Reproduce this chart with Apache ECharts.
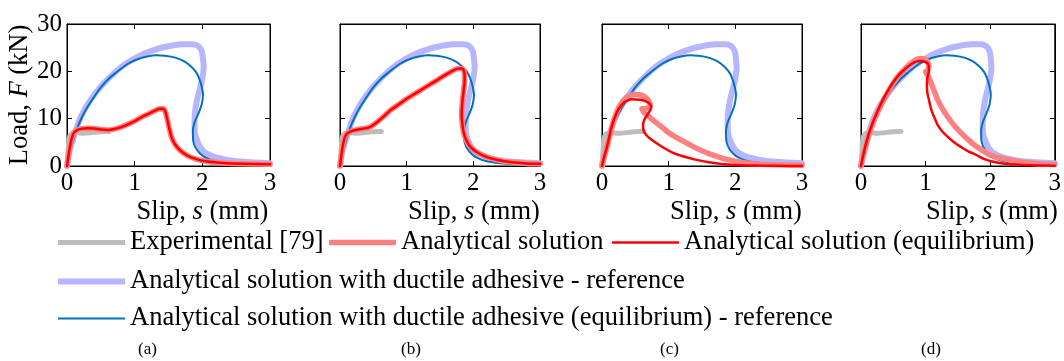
<!DOCTYPE html>
<html>
<head>
<meta charset="utf-8">
<script src="https://cdn.jsdelivr.net/npm/echarts@6/dist/echarts.min.js"></script>
<style>
  html, body { margin: 0; padding: 0; background: #ffffff; }
  #chart { width: 1064px; height: 361px; }
</style>
</head>
<body>
<div id="chart"></div>
<script>
// Load–slip curves, slip s in mm, load F in kN, as [s, F] pairs.

const panelLabels = ['(a)', '(b)', '(c)', '(d)'];
const slipTicks = [0, 1, 2, 3];
const loadTicks = [0, 10, 20, 30];

const seriesNames = [
  'Analytical solution with ductile adhesive - reference',
  'Analytical solution with ductile adhesive (equilibrium) - reference',
  'Experimental [79]',
  'Analytical solution',
  'Analytical solution (equilibrium)'
];

// Test data, identical in every panel
const experimental = [
  [0.01, 0.8], [0.015, 3.0], [0.025, 5.0], [0.04, 6.3], [0.08, 6.9], [0.15, 7.0],
  [0.25, 6.9], [0.35, 7.0], [0.45, 7.2], [0.55, 7.3], [0.62, 7.3]
];

// Ductile adhesive reference curves, identical in every panel
const ductileRef = [
  [0, 0], [0.04, 3.4], [0.09, 5.6], [0.19, 9.9], [0.3, 12.9], [0.4, 15.0], [0.52, 17.1],
  [0.65, 19.0], [0.8, 20.9], [0.95, 22.3], [1.12, 23.6], [1.3, 24.6], [1.5, 25.3],
  [1.7, 25.7], [1.85, 25.7], [1.94, 25.3], [1.99, 24.3], [2.01, 22.5], [2.02, 20.9],
  [2.0, 18.5], [1.97, 16.7], [1.92, 13.9], [1.89, 11.1], [1.885, 9.0], [1.89, 7.0],
  [1.94, 4.8], [2.0, 3.4], [2.07, 2.6], [2.2, 1.8], [2.37, 1.3], [2.6, 0.9], [3.0, 0.6]
];
const ductileEqRef = [
  [0, 0], [0.06, 3.7], [0.14, 7.6], [0.22, 10.3], [0.3, 12.4], [0.4, 14.6], [0.5, 16.6],
  [0.62, 18.5], [0.75, 20.0], [0.9, 21.6], [1.05, 22.6], [1.2, 23.2], [1.32, 23.4],
  [1.45, 23.3], [1.6, 22.9], [1.72, 22.2], [1.82, 21.2], [1.9, 20.0], [1.95, 18.6],
  [1.99, 16.8], [2.01, 15.1], [1.99, 13.0], [1.94, 11.0], [1.89, 9.4], [1.86, 7.4],
  [1.865, 5.3], [1.9, 3.9], [1.97, 2.6], [2.06, 1.7], [2.2, 1.0], [2.4, 0.6],
  [2.7, 0.35], [3.0, 0.2]
];

// Panel (a): both analytical curves coincide
const analyticalA = [
  [0, 0], [0.02, 2.0], [0.04, 3.8], [0.065, 5.6], [0.1, 7.0], [0.15, 7.6], [0.22, 7.9],
  [0.3, 8.0], [0.4, 7.9], [0.5, 7.7], [0.6, 7.6], [0.7, 7.8], [0.8, 8.2], [0.9, 8.8],
  [1.0, 9.5], [1.1, 10.3], [1.2, 11.0], [1.3, 11.7], [1.37, 12.1], [1.42, 12.1],
  [1.45, 11.6], [1.48, 10.0], [1.51, 8.0], [1.55, 5.9], [1.6, 4.5], [1.68, 3.2],
  [1.78, 2.2], [1.9, 1.5], [2.05, 1.0], [2.3, 0.65], [2.6, 0.45], [3.0, 0.35]
];
const analyticalEqA = analyticalA;

// Panel (b): both analytical curves coincide
const analyticalB = [
  [0, 0], [0.02, 2.2], [0.04, 4.1], [0.075, 6.2], [0.12, 7.0], [0.2, 7.5], [0.3, 7.8],
  [0.4, 8.0], [0.47, 8.4], [0.55, 9.2], [0.65, 10.4], [0.75, 11.7], [0.88, 13.0],
  [1.0, 14.2], [1.15, 15.5], [1.3, 16.8], [1.45, 18.1], [1.6, 19.4], [1.7, 20.2],
  [1.78, 20.6], [1.83, 20.6], [1.865, 19.8], [1.87, 18.3], [1.855, 16.0], [1.835, 13.5],
  [1.825, 11.0], [1.835, 8.8], [1.86, 6.8], [1.91, 5.0], [1.98, 3.7], [2.08, 2.7],
  [2.2, 1.9], [2.35, 1.3], [2.55, 0.85], [2.8, 0.55], [3.0, 0.45]
];
const analyticalEqB = analyticalB;

// Panel (c)
const analyticalC = [
  [0, 0], [0.04, 2.2], [0.09, 4.8], [0.14, 7.8], [0.19, 10.2], [0.24, 12.0], [0.3, 13.5],
  [0.36, 14.4], [0.42, 14.9], [0.5, 15.1], [0.58, 15.0], [0.65, 14.5], [0.7, 13.8],
  [0.72, 13.0], [0.7, 12.4], [0.65, 12.1], [0.6, 12.1], [0.62, 11.5], [0.7, 10.5],
  [0.8, 9.3], [0.9, 8.2], [1.0, 7.0], [1.12, 6.0], [1.25, 5.0], [1.37, 4.1], [1.5, 3.2],
  [1.62, 2.5], [1.75, 1.9], [1.87, 1.4], [2.0, 1.0], [2.12, 0.7], [2.3, 0.45],
  [2.5, 0.3], [2.75, 0.2], [3.0, 0.15]
];
const analyticalEqC = [
  [0, 0], [0.03, 1.8], [0.07, 3.8], [0.11, 6.2], [0.145, 8.3], [0.19, 10.2], [0.24, 11.8],
  [0.29, 12.8], [0.34, 13.5], [0.44, 14.1], [0.57, 14.0], [0.65, 13.7], [0.71, 13.2],
  [0.74, 12.5], [0.72, 11.7], [0.67, 10.6], [0.63, 9.6], [0.615, 8.5], [0.625, 7.5],
  [0.66, 6.6], [0.73, 5.7], [0.82, 4.8], [0.93, 3.8], [1.05, 2.9], [1.2, 2.1],
  [1.4, 1.35], [1.6, 0.8], [1.8, 0.4], [2.0, 0.2], [2.3, 0.08], [2.6, 0.03], [3.0, 0.0]
];

// Panel (d)
const analyticalD = [
  [0, 0], [0.04, 2.4], [0.08, 4.5], [0.15, 7.7], [0.25, 11.1], [0.4, 15.2], [0.55, 18.5],
  [0.7, 20.8], [0.82, 22.2], [0.91, 22.7], [0.98, 22.6], [1.03, 22.0], [1.05, 21.0],
  [1.03, 20.2], [1.0, 19.9], [1.04, 19.0], [1.09, 17.4], [1.14, 15.6], [1.19, 13.9],
  [1.26, 12.1], [1.34, 10.4], [1.44, 8.6], [1.54, 7.1], [1.64, 5.8], [1.74, 4.6],
  [1.87, 3.4], [1.99, 2.4], [2.14, 1.7], [2.29, 1.3], [2.45, 0.9], [2.64, 0.6],
  [2.8, 0.4], [3.0, 0.3]
];
const analyticalEqD = [
  [0, 0], [0.03, 2.0], [0.065, 4.1], [0.14, 7.6], [0.24, 11.1], [0.39, 15.3], [0.54, 18.5],
  [0.69, 20.6], [0.84, 22.0], [0.94, 22.2], [1.01, 21.9], [1.05, 21.2], [1.05, 20.0],
  [1.03, 18.8], [1.02, 17.0], [1.03, 15.3], [1.06, 13.5], [1.09, 11.8], [1.14, 10.1],
  [1.19, 8.6], [1.26, 7.3], [1.34, 6.2], [1.44, 5.0], [1.54, 4.1], [1.66, 3.1],
  [1.79, 2.3], [1.9, 1.5], [2.05, 0.9], [2.2, 0.55], [2.4, 0.3], [2.64, 0.15], [3.0, 0.05]
];

const analyticalByPanel = [analyticalA, analyticalB, analyticalC, analyticalD];
const analyticalEqByPanel = [analyticalEqA, analyticalEqB, analyticalEqC, analyticalEqD];

// ---- layout and styling ----
const FONT = 'Liberation Serif';
const TEXT_SIZE = 26.5;
const panelBoxes = [
  { left: 67, width: 203 },
  { left: 340, width: 200 },
  { left: 602, width: 200 },
  { left: 861, width: 200 }
];
const plotTop = 24, plotHeight = 142;

const styles = [
  { color: '#b6b6ff', width: 6 },   // ductile reference
  { color: '#0072bd', width: 2 },   // ductile equilibrium reference
  { color: '#bdbdbd', width: 5 },   // experimental
  { color: '#ff8080', width: 5.5 }, // analytical
  { color: '#ff0000', width: 2.5 }  // analytical equilibrium
];

const grids = [], xAxes = [], yAxes = [], series = [];
const tickStyle = { show: true, inside: true, length: 5, lineStyle: { color: '#000', width: 1 } };
const lineStyleAxis = { show: true, onZero: false, lineStyle: { color: '#000', width: 1 } };
const italicRich = { i: { fontStyle: 'italic', fontFamily: FONT, fontSize: TEXT_SIZE, color: '#000' } };

panelBoxes.forEach((box, p) => {
  grids.push({ left: box.left, top: plotTop, width: box.width, height: plotHeight,
               show: true, borderColor: '#000', borderWidth: 1, backgroundColor: 'transparent' });

  // bottom and top slip axes
  xAxes.push({
    type: 'value', gridIndex: p, position: 'bottom',
    min: slipTicks[0], max: slipTicks[slipTicks.length - 1], interval: 1,
    axisLine: lineStyleAxis, axisTick: tickStyle, splitLine: { show: false },
    axisLabel: { show: true, color: '#000', fontFamily: FONT, fontSize: 25, margin: 5 },
    name: 'Slip, {i|s} (mm)', nameLocation: 'middle', nameGap: 33,
    nameTextStyle: {
      color: '#000', fontFamily: FONT, fontSize: TEXT_SIZE, padding: [0, 0, 0, 68], rich: italicRich
    }
  });
  xAxes.push({
    type: 'value', gridIndex: p, position: 'top',
    min: slipTicks[0], max: slipTicks[slipTicks.length - 1], interval: 1,
    axisLine: lineStyleAxis, axisTick: tickStyle, axisLabel: { show: false }, splitLine: { show: false }
  });

  // left and right load axes
  const yLeft = {
    type: 'value', gridIndex: p, position: 'left',
    min: loadTicks[0], max: loadTicks[loadTicks.length - 1], interval: 10,
    axisLine: lineStyleAxis, axisTick: tickStyle, splitLine: { show: false },
    axisLabel: { show: p === 0, color: '#000', fontFamily: FONT, fontSize: 25, margin: 5 }
  };
  if (p === 0) {
    yLeft.name = 'Load, {i|F} (kN)';
    yLeft.nameLocation = 'middle';
    yLeft.nameRotate = 90;
    yLeft.nameGap = 33;
    yLeft.nameTextStyle = { color: '#000', fontFamily: FONT, fontSize: TEXT_SIZE, rich: italicRich };
  }
  yAxes.push(yLeft);
  yAxes.push({
    type: 'value', gridIndex: p, position: 'right',
    min: loadTicks[0], max: loadTicks[loadTicks.length - 1], interval: 10,
    axisLine: lineStyleAxis, axisTick: tickStyle, axisLabel: { show: false }, splitLine: { show: false }
  });

  const dataSets = [ductileRef, ductileEqRef, experimental, analyticalByPanel[p], analyticalEqByPanel[p]];
  dataSets.forEach((d, k) => {
    series.push({
      type: 'line', name: seriesNames[k],
      xAxisIndex: 2 * p, yAxisIndex: 2 * p,
      data: d, showSymbol: false, symbol: 'none', smooth: 0.3,
      lineStyle: { color: styles[k].color, width: styles[k].width, cap: 'round', join: 'round' },
      itemStyle: { color: styles[k].color },
      emphasis: { disabled: true },
      z: 2 + k
    });
  });
});

// Legend rows: one component per entry so every sample keeps its own line weight
function legendEntry(k, left, top) {
  return {
    data: [seriesNames[k]], left: left, top: top, padding: 0,
    icon: 'rect', itemWidth: 67, itemHeight: styles[k].width,
    itemStyle: { color: styles[k].color, borderWidth: 0 },
    textStyle: { color: '#000', fontFamily: FONT, fontSize: TEXT_SIZE },
    selectedMode: false
  };
}
const legends = [
  legendEntry(2, 58, 229),
  legendEntry(3, 329, 229),
  legendEntry(4, 612, 229),
  legendEntry(0, 58, 268),
  legendEntry(1, 58, 305)
];

// Panel captions under the figure
const captionX = [150, 413, 672, 933];
const graphics = panelLabels.map((t, i) => ({
  type: 'text', left: captionX[i] - 12, top: 341,
  style: { text: t, fontFamily: FONT, fontSize: 17, fill: '#000' }
}));

const chart = echarts.init(document.getElementById('chart'), null, { renderer: 'canvas' });
chart.setOption({
  animation: false,
  backgroundColor: '#ffffff',
  textStyle: { fontFamily: FONT },
  grid: grids,
  xAxis: xAxes,
  yAxis: yAxes,
  legend: legends,
  graphic: graphics,
  series: series
});
</script>
</body>
</html>
